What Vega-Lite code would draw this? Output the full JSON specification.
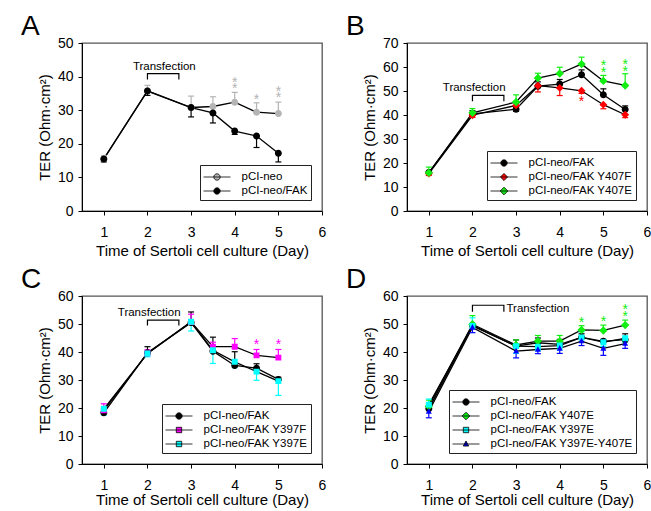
{
  "$schema": "https://vega.github.io/schema/vega-lite/v6.json",
  "background": "white",
  "padding": {"left": 20, "top": 12, "right": 0, "bottom": 0},
  "config": {
    "font": "Liberation Sans",
    "view": {"stroke": "#555555", "strokeWidth": 1.3},
    "axis": {
      "grid": false, "domainColor": "black", "tickColor": "black", "labelColor": "black", "titleColor": "black",
      "labelFontSize": 14, "titleFontSize": 15, "titleFontWeight": "normal", "tickSize": 4, "labelPadding": 5,
      "titlePadding": 5, "labelFlush": false, "labelOverlap": false, "domainWidth": 1, "tickWidth": 1
    },
    "axisX": {"labelPadding": 10, "titlePadding": 4},
    "legend": {
      "orient": "bottom-right", "offset": 11, "strokeColor": "#222222", "fillColor": "white", "padding": 3.5,
      "labelFontSize": 11.5, "labelOffset": 16, "symbolSize": 252, "symbolOffset": 5, "symbolStrokeColor": "black",
      "symbolStrokeWidth": 0.8, "rowPadding": -1.5, "labelColor": "black"
    }
  },
  "resolve": {
    "scale": {"color": "independent", "shape": "independent", "fill": "independent", "stroke": "independent"},
    "legend": {"color": "independent", "shape": "independent", "fill": "independent", "stroke": "independent"}
  },
  "datasets": {
    "a": [
      {"day": 1, "ter": 15.5, "g": "pCI-neo", "hi": 16.5},
      {"day": 2, "ter": 35.8, "g": "pCI-neo", "hi": 37.4},
      {"day": 3, "ter": 30.8, "g": "pCI-neo", "hi": 34.2},
      {"day": 3.5, "ter": 31.1, "g": "pCI-neo", "hi": 34.0},
      {"day": 4, "ter": 32.4, "g": "pCI-neo", "hi": 35.3},
      {"day": 4.5, "ter": 29.4, "g": "pCI-neo", "hi": 32.2},
      {"day": 5, "ter": 29.0, "g": "pCI-neo", "hi": 32.4},
      {"day": 1, "ter": 15.5, "g": "pCI-neo/FAK", "lo": 14.6},
      {"day": 2, "ter": 35.7, "g": "pCI-neo/FAK", "lo": 34.4},
      {"day": 3, "ter": 30.8, "g": "pCI-neo/FAK", "lo": 28.0},
      {"day": 3.5, "ter": 29.2, "g": "pCI-neo/FAK", "lo": 26.2},
      {"day": 4, "ter": 23.8, "g": "pCI-neo/FAK", "lo": 22.8},
      {"day": 4.5, "ter": 22.3, "g": "pCI-neo/FAK", "lo": 18.9},
      {"day": 5, "ter": 17.2, "g": "pCI-neo/FAK", "lo": 14.6}
    ],
    "a_st": [
      {"day": 4, "ter": 39.0, "g": "pCI-neo"}, {"day": 4, "ter": 37.2, "g": "pCI-neo"},
      {"day": 4.5, "ter": 34.0, "g": "pCI-neo"},
      {"day": 5, "ter": 36.4, "g": "pCI-neo"}, {"day": 5, "ter": 34.5, "g": "pCI-neo"}
    ],
    "a_br": [
      {"day": 2, "ter": 39.1, "i": 1}, {"day": 2, "ter": 40.9, "i": 2},
      {"day": 2.72, "ter": 40.9, "i": 3}, {"day": 2.72, "ter": 39.1, "i": 4}
    ],
    "a_tx": [{"day": 1.666, "ter": 43.0, "t": "Transfection"}],
    "b": [
      {"day": 1, "ter": 16.0, "g": "pCI-neo/FAK"},
      {"day": 2, "ter": 40.5, "g": "pCI-neo/FAK", "hi": 41.8},
      {"day": 3, "ter": 42.4, "g": "pCI-neo/FAK", "lo": 41.5},
      {"day": 3.5, "ter": 52.0, "g": "pCI-neo/FAK", "hi": 53.8},
      {"day": 4, "ter": 52.9, "g": "pCI-neo/FAK", "hi": 54.8},
      {"day": 4.5, "ter": 56.8, "g": "pCI-neo/FAK", "hi": 58.8},
      {"day": 5, "ter": 48.4, "g": "pCI-neo/FAK", "hi": 50.9},
      {"day": 5.5, "ter": 42.3, "g": "pCI-neo/FAK", "hi": 43.8},
      {"day": 1, "ter": 15.6, "g": "pCI-neo/FAK Y407F", "lo": 14.8},
      {"day": 2, "ter": 39.9, "g": "pCI-neo/FAK Y407F", "lo": 39.0},
      {"day": 3, "ter": 44.0, "g": "pCI-neo/FAK Y407F", "lo": 42.8},
      {"day": 3.5, "ter": 52.2, "g": "pCI-neo/FAK Y407F", "lo": 49.6},
      {"day": 4, "ter": 51.3, "g": "pCI-neo/FAK Y407F", "lo": 48.1},
      {"day": 4.5, "ter": 50.1, "g": "pCI-neo/FAK Y407F", "lo": 49.0},
      {"day": 5, "ter": 44.3, "g": "pCI-neo/FAK Y407F", "lo": 42.6},
      {"day": 5.5, "ter": 40.1, "g": "pCI-neo/FAK Y407F", "lo": 38.9},
      {"day": 1, "ter": 15.9, "g": "pCI-neo/FAK Y407E", "hi": 18.3},
      {"day": 2, "ter": 40.9, "g": "pCI-neo/FAK Y407E", "hi": 42.7},
      {"day": 3, "ter": 45.4, "g": "pCI-neo/FAK Y407E", "hi": 48.4},
      {"day": 3.5, "ter": 55.4, "g": "pCI-neo/FAK Y407E", "hi": 57.4},
      {"day": 4, "ter": 57.3, "g": "pCI-neo/FAK Y407E", "hi": 59.9},
      {"day": 4.5, "ter": 61.2, "g": "pCI-neo/FAK Y407E", "hi": 64.1},
      {"day": 5, "ter": 54.2, "g": "pCI-neo/FAK Y407E", "hi": 56.5},
      {"day": 5.5, "ter": 52.3, "g": "pCI-neo/FAK Y407E", "hi": 57.2}
    ],
    "b_st": [
      {"day": 5, "ter": 61.8, "g": "pCI-neo/FAK Y407E"}, {"day": 5, "ter": 58.8, "g": "pCI-neo/FAK Y407E"},
      {"day": 5.5, "ter": 62.1, "g": "pCI-neo/FAK Y407E"}, {"day": 5.5, "ter": 59.3, "g": "pCI-neo/FAK Y407E"},
      {"day": 4.5, "ter": 46.7, "g": "pCI-neo/FAK Y407F"}
    ],
    "b_br": [
      {"day": 2, "ter": 45.7, "i": 1}, {"day": 2, "ter": 48.2, "i": 2},
      {"day": 2.72, "ter": 48.2, "i": 3}, {"day": 2.72, "ter": 45.7, "i": 4}
    ],
    "b_tx": [{"day": 1.32, "ter": 51.25, "t": "Transfection"}],
    "c": [
      {"day": 1, "ter": 18.3, "g": "pCI-neo/FAK"},
      {"day": 2, "ter": 39.7, "g": "pCI-neo/FAK", "hi": 41.9},
      {"day": 3, "ter": 50.5, "g": "pCI-neo/FAK", "hi": 54.3},
      {"day": 3.5, "ter": 40.3, "g": "pCI-neo/FAK", "hi": 45.3},
      {"day": 4, "ter": 35.2, "g": "pCI-neo/FAK", "hi": 40.1},
      {"day": 4.5, "ter": 34.2, "g": "pCI-neo/FAK", "hi": 35.8},
      {"day": 5, "ter": 30.2, "g": "pCI-neo/FAK", "hi": 31.0},
      {"day": 1, "ter": 19.2, "g": "pCI-neo/FAK Y397F", "hi": 21.5},
      {"day": 2, "ter": 39.5, "g": "pCI-neo/FAK Y397F", "hi": 40.8},
      {"day": 3, "ter": 50.7, "g": "pCI-neo/FAK Y397F", "hi": 53.5},
      {"day": 3.5, "ter": 41.9, "g": "pCI-neo/FAK Y397F", "hi": 43.5},
      {"day": 4, "ter": 41.9, "g": "pCI-neo/FAK Y397F", "hi": 44.8},
      {"day": 4.5, "ter": 38.8, "g": "pCI-neo/FAK Y397F", "hi": 40.9},
      {"day": 5, "ter": 38.0, "g": "pCI-neo/FAK Y397F", "hi": 40.9},
      {"day": 1, "ter": 19.7, "g": "pCI-neo/FAK Y397E", "lo": 17.5},
      {"day": 2, "ter": 39.5, "g": "pCI-neo/FAK Y397E", "lo": 38.3},
      {"day": 3, "ter": 50.8, "g": "pCI-neo/FAK Y397E", "lo": 47.5},
      {"day": 3.5, "ter": 40.6, "g": "pCI-neo/FAK Y397E", "lo": 35.9},
      {"day": 4, "ter": 36.5, "g": "pCI-neo/FAK Y397E", "lo": 34.4},
      {"day": 4.5, "ter": 33.0, "g": "pCI-neo/FAK Y397E", "lo": 29.9},
      {"day": 5, "ter": 29.6, "g": "pCI-neo/FAK Y397E", "lo": 24.5}
    ],
    "c_st": [
      {"day": 4.5, "ter": 43.5, "g": "pCI-neo/FAK Y397F"}, {"day": 5, "ter": 43.5, "g": "pCI-neo/FAK Y397F"}
    ],
    "c_br": [
      {"day": 2, "ter": 49.5, "i": 1}, {"day": 2, "ter": 51.4, "i": 2},
      {"day": 2.72, "ter": 51.4, "i": 3}, {"day": 2.72, "ter": 49.5, "i": 4}
    ],
    "c_tx": [{"day": 1.32, "ter": 53.9, "t": "Transfection"}],
    "d": [
      {"day": 1, "ter": 19.7, "g": "pCI-neo/FAK"},
      {"day": 2, "ter": 49.5, "g": "pCI-neo/FAK"},
      {"day": 3, "ter": 42.1, "g": "pCI-neo/FAK", "hi": 44.3},
      {"day": 3.5, "ter": 43.3, "g": "pCI-neo/FAK", "hi": 45.0},
      {"day": 4, "ter": 42.7, "g": "pCI-neo/FAK", "hi": 44.5},
      {"day": 4.5, "ter": 45.2, "g": "pCI-neo/FAK", "hi": 46.5},
      {"day": 5, "ter": 43.8, "g": "pCI-neo/FAK", "hi": 44.5},
      {"day": 5.5, "ter": 44.4, "g": "pCI-neo/FAK", "hi": 46.5},
      {"day": 1, "ter": 20.6, "g": "pCI-neo/FAK Y407E", "hi": 22.8},
      {"day": 2, "ter": 49.9, "g": "pCI-neo/FAK Y407E", "hi": 53.0},
      {"day": 3, "ter": 42.5, "g": "pCI-neo/FAK Y407E", "hi": 44.3},
      {"day": 3.5, "ter": 43.9, "g": "pCI-neo/FAK Y407E", "hi": 45.9},
      {"day": 4, "ter": 43.9, "g": "pCI-neo/FAK Y407E", "hi": 45.9},
      {"day": 4.5, "ter": 47.9, "g": "pCI-neo/FAK Y407E", "hi": 49.4},
      {"day": 5, "ter": 47.7, "g": "pCI-neo/FAK Y407E", "hi": 49.6},
      {"day": 5.5, "ter": 49.6, "g": "pCI-neo/FAK Y407E", "hi": 51.4},
      {"day": 1, "ter": 21.2, "g": "pCI-neo/FAK Y397E", "hi": 23.2},
      {"day": 2, "ter": 49.3, "g": "pCI-neo/FAK Y397E", "hi": 52.2},
      {"day": 3, "ter": 42.1, "g": "pCI-neo/FAK Y397E", "lo": 39.5},
      {"day": 3.5, "ter": 41.9, "g": "pCI-neo/FAK Y397E", "lo": 40.5},
      {"day": 4, "ter": 42.3, "g": "pCI-neo/FAK Y397E", "lo": 40.8},
      {"day": 4.5, "ter": 45.2, "g": "pCI-neo/FAK Y397E", "hi": 47.2},
      {"day": 5, "ter": 43.5, "g": "pCI-neo/FAK Y397E", "lo": 42.0},
      {"day": 5.5, "ter": 44.9, "g": "pCI-neo/FAK Y397E", "lo": 43.5},
      {"day": 1, "ter": 18.8, "g": "pCI-neo/FAK Y397E-Y407E", "lo": 16.5},
      {"day": 2, "ter": 48.8, "g": "pCI-neo/FAK Y397E-Y407E", "lo": 46.9},
      {"day": 3, "ter": 40.3, "g": "pCI-neo/FAK Y397E-Y407E", "lo": 37.9},
      {"day": 3.5, "ter": 40.9, "g": "pCI-neo/FAK Y397E-Y407E", "lo": 39.4},
      {"day": 4, "ter": 41.3, "g": "pCI-neo/FAK Y397E-Y407E", "lo": 39.5},
      {"day": 4.5, "ter": 43.9, "g": "pCI-neo/FAK Y397E-Y407E", "lo": 42.3},
      {"day": 5, "ter": 41.3, "g": "pCI-neo/FAK Y397E-Y407E", "lo": 38.8},
      {"day": 5.5, "ter": 43.0, "g": "pCI-neo/FAK Y397E-Y407E", "lo": 41.3}
    ],
    "d_st": [
      {"day": 4.5, "ter": 51.4, "g": "pCI-neo/FAK Y407E"}, {"day": 5, "ter": 51.7, "g": "pCI-neo/FAK Y407E"},
      {"day": 5.5, "ter": 56.2, "g": "pCI-neo/FAK Y407E"}, {"day": 5.5, "ter": 53.7, "g": "pCI-neo/FAK Y407E"}
    ],
    "d_br": [
      {"day": 2, "ter": 54.4, "i": 1}, {"day": 2, "ter": 56.7, "i": 2},
      {"day": 2.72, "ter": 56.7, "i": 3}, {"day": 2.72, "ter": 54.4, "i": 4}
    ],
    "d_tx": [{"day": 2.78, "ter": 55.4, "t": "Transfection"}]
  },
  "columns": 2,
  "spacing": {"row": 85, "column": 85},
  "bounds": "flush",
  "concat": [
    {
      "width": 240, "height": 168,
      "title": {"text": "A", "anchor": "start", "frame": "group", "dx": -61, "dy": 27, "fontSize": 28, "fontWeight": "normal", "baseline": "alphabetic", "offset": 0},
      "encoding": {
        "x": {"field": "day", "type": "quantitative", "scale": {"domain": [0.5, 6], "nice": false, "zero": false}, "axis": {"values": [1, 2, 3, 4, 5, 6], "title": "Time of Sertoli cell culture (Day)"}},
        "y": {"field": "ter", "type": "quantitative", "scale": {"domain": [0, 50], "nice": false}, "axis": {"values": [0, 10, 20, 30, 40, 50], "title": "TER (Ohm·cm²)"}}
      },
      "layer": [
        {"data": {"name": "a_br"}, "mark": {"type": "line", "color": "black", "strokeWidth": 1.2}, "encoding": {"order": {"field": "i", "type": "quantitative"}}},
        {"data": {"name": "a_tx"}, "mark": {"type": "text", "align": "left", "baseline": "middle", "fontSize": 11.5, "color": "black"}, "encoding": {"text": {"field": "t"}}},
        {"data": {"name": "a"}, "mark": {"type": "line", "color": "black", "strokeWidth": 1.3}, "encoding": {"detail": {"field": "g"}}},
        {"data": {"name": "a"}, "transform": [{"fold": ["hi", "lo"], "as": ["k", "ev"]}, {"filter": "isValid(datum.ev)"}], "mark": {"type": "rule", "strokeWidth": 1.2},
          "encoding": {"y2": {"field": "ev"}, "stroke": {"field": "g", "type": "nominal", "scale": {"range": ["#b4b4b4", "#000000"]}, "legend": null}}},
        {"data": {"name": "a"}, "transform": [{"fold": ["hi", "lo"], "as": ["k", "ev"]}, {"filter": "isValid(datum.ev)"}], "mark": {"type": "tick", "orient": "horizontal", "size": 6, "thickness": 1.2, "opacity": 1},
          "encoding": {"y": {"field": "ev", "type": "quantitative"}, "fill": {"field": "g", "type": "nominal", "scale": {"range": ["#b4b4b4", "#000000"]}, "legend": null}}},
        {"data": {"name": "a"}, "mark": {"type": "point", "filled": true, "opacity": 1, "size": 306},
          "encoding": {
            "color": {"field": "g", "type": "nominal", "scale": {"domain": ["pCI-neo", "pCI-neo/FAK"], "range": ["#b4b4b4", "#000000"]}, "legend": {"title": null}},
            "shape": {"field": "g", "type": "nominal", "scale": {"domain": ["pCI-neo", "pCI-neo/FAK"], "range": ["M-1.7,0L1.7,0M0.4,0A0.4,0.4,0,1,1,-0.4,0A0.4,0.4,0,1,1,0.4,0Z", "M-1.7,0L1.7,0M0.4,0A0.4,0.4,0,1,1,-0.4,0A0.4,0.4,0,1,1,0.4,0Z"]}, "legend": {"title": null}}
          }},
        {"data": {"name": "a_st"}, "mark": {"type": "text", "text": "*", "fontSize": 14, "baseline": "middle", "dy": 3},
          "encoding": {"fill": {"field": "g", "type": "nominal", "scale": {"range": ["#b4b4b4", "#000000"]}, "legend": null}}}
      ]
    },
    {
      "width": 240, "height": 168,
      "title": {"text": "B", "anchor": "start", "frame": "group", "dx": -61, "dy": 27, "fontSize": 28, "fontWeight": "normal", "baseline": "alphabetic", "offset": 0},
      "encoding": {
        "x": {"field": "day", "type": "quantitative", "scale": {"domain": [0.5, 6], "nice": false, "zero": false}, "axis": {"values": [1, 2, 3, 4, 5, 6], "title": "Time of Sertoli cell culture (Day)"}},
        "y": {"field": "ter", "type": "quantitative", "scale": {"domain": [0, 70], "nice": false}, "axis": {"values": [0, 10, 20, 30, 40, 50, 60, 70], "title": "TER (Ohm·cm²)"}}
      },
      "layer": [
        {"data": {"name": "b_br"}, "mark": {"type": "line", "color": "black", "strokeWidth": 1.2}, "encoding": {"order": {"field": "i", "type": "quantitative"}}},
        {"data": {"name": "b_tx"}, "mark": {"type": "text", "align": "left", "baseline": "middle", "fontSize": 11.5, "color": "black"}, "encoding": {"text": {"field": "t"}}},
        {"data": {"name": "b"}, "mark": {"type": "line", "color": "black", "strokeWidth": 1.3}, "encoding": {"detail": {"field": "g"}}},
        {"data": {"name": "b"}, "transform": [{"fold": ["hi", "lo"], "as": ["k", "ev"]}, {"filter": "isValid(datum.ev)"}], "mark": {"type": "rule", "strokeWidth": 1.2},
          "encoding": {"y2": {"field": "ev"}, "stroke": {"field": "g", "type": "nominal", "scale": {"range": ["#000000", "#11ee11", "#ff0000"]}, "legend": null}}},
        {"data": {"name": "b"}, "transform": [{"fold": ["hi", "lo"], "as": ["k", "ev"]}, {"filter": "isValid(datum.ev)"}], "mark": {"type": "tick", "orient": "horizontal", "size": 6, "thickness": 1.2, "opacity": 1},
          "encoding": {"y": {"field": "ev", "type": "quantitative"}, "fill": {"field": "g", "type": "nominal", "scale": {"range": ["#000000", "#11ee11", "#ff0000"]}, "legend": null}}},
        {"data": {"name": "b"}, "mark": {"type": "point", "filled": true, "opacity": 1, "size": 306},
          "encoding": {
            "color": {"field": "g", "type": "nominal", "scale": {"domain": ["pCI-neo/FAK", "pCI-neo/FAK Y407F", "pCI-neo/FAK Y407E"], "range": ["#000000", "#ff0000", "#11ee11"]}, "legend": {"title": null}},
            "shape": {"field": "g", "type": "nominal", "scale": {"domain": ["pCI-neo/FAK", "pCI-neo/FAK Y407F", "pCI-neo/FAK Y407E"], "range": ["M-1.7,0L1.7,0M0.4,0A0.4,0.4,0,1,1,-0.4,0A0.4,0.4,0,1,1,0.4,0Z", "M-1.7,0L1.7,0M0,-0.45L0.45,0L0,0.45L-0.45,0Z", "M-1.7,0L1.7,0M0,-0.48L0.48,0L0,0.48L-0.48,0Z"]}, "legend": {"title": null}}
          }},
        {"data": {"name": "b_st"}, "mark": {"type": "text", "text": "*", "fontSize": 14, "baseline": "middle", "dy": 3},
          "encoding": {"fill": {"field": "g", "type": "nominal", "scale": {"range": ["#11ee11", "#ff0000"]}, "legend": null}}}
      ]
    },
    {
      "width": 240, "height": 168,
      "title": {"text": "C", "anchor": "start", "frame": "group", "dx": -61, "dy": 27, "fontSize": 28, "fontWeight": "normal", "baseline": "alphabetic", "offset": 0},
      "encoding": {
        "x": {"field": "day", "type": "quantitative", "scale": {"domain": [0.5, 6], "nice": false, "zero": false}, "axis": {"values": [1, 2, 3, 4, 5, 6], "title": "Time of Sertoli cell culture (Day)", "titlePadding": 0}},
        "y": {"field": "ter", "type": "quantitative", "scale": {"domain": [0, 60], "nice": false}, "axis": {"values": [0, 10, 20, 30, 40, 50, 60], "title": "TER (Ohm·cm²)"}}
      },
      "layer": [
        {"data": {"name": "c_br"}, "mark": {"type": "line", "color": "black", "strokeWidth": 1.2}, "encoding": {"order": {"field": "i", "type": "quantitative"}}},
        {"data": {"name": "c_tx"}, "mark": {"type": "text", "align": "left", "baseline": "middle", "fontSize": 11.5, "color": "black"}, "encoding": {"text": {"field": "t"}}},
        {"data": {"name": "c"}, "mark": {"type": "line", "color": "black", "strokeWidth": 1.3}, "encoding": {"detail": {"field": "g"}}},
        {"data": {"name": "c"}, "transform": [{"fold": ["hi", "lo"], "as": ["k", "ev"]}, {"filter": "isValid(datum.ev)"}], "mark": {"type": "rule", "strokeWidth": 1.2},
          "encoding": {"y2": {"field": "ev"}, "stroke": {"field": "g", "type": "nominal", "scale": {"range": ["#000000", "#00ffff", "#ff00ff"]}, "legend": null}}},
        {"data": {"name": "c"}, "transform": [{"fold": ["hi", "lo"], "as": ["k", "ev"]}, {"filter": "isValid(datum.ev)"}], "mark": {"type": "tick", "orient": "horizontal", "size": 6, "thickness": 1.2, "opacity": 1},
          "encoding": {"y": {"field": "ev", "type": "quantitative"}, "fill": {"field": "g", "type": "nominal", "scale": {"range": ["#000000", "#00ffff", "#ff00ff"]}, "legend": null}}},
        {"data": {"name": "c"}, "mark": {"type": "point", "filled": true, "opacity": 1, "size": 306},
          "encoding": {
            "color": {"field": "g", "type": "nominal", "scale": {"domain": ["pCI-neo/FAK", "pCI-neo/FAK Y397F", "pCI-neo/FAK Y397E"], "range": ["#000000", "#ff00ff", "#00ffff"]}, "legend": {"title": null}},
            "shape": {"field": "g", "type": "nominal", "scale": {"domain": ["pCI-neo/FAK", "pCI-neo/FAK Y397F", "pCI-neo/FAK Y397E"], "range": ["M-1.7,0L1.7,0M0.4,0A0.4,0.4,0,1,1,-0.4,0A0.4,0.4,0,1,1,0.4,0Z", "M-1.7,0L1.7,0M-0.34,-0.34L0.34,-0.34L0.34,0.34L-0.34,0.34Z", "M-1.7,0L1.7,0M-0.34,-0.34L0.34,-0.34L0.34,0.34L-0.34,0.34Z"]}, "legend": {"title": null}}
          }},
        {"data": {"name": "c_st"}, "mark": {"type": "text", "text": "*", "fontSize": 14, "baseline": "middle", "dy": 3},
          "encoding": {"fill": {"field": "g", "type": "nominal", "scale": {"range": ["#ff00ff"]}, "legend": null}}}
      ]
    },
    {
      "width": 240, "height": 168,
      "title": {"text": "D", "anchor": "start", "frame": "group", "dx": -61, "dy": 27, "fontSize": 28, "fontWeight": "normal", "baseline": "alphabetic", "offset": 0},
      "encoding": {
        "x": {"field": "day", "type": "quantitative", "scale": {"domain": [0.5, 6], "nice": false, "zero": false}, "axis": {"values": [1, 2, 3, 4, 5, 6], "title": "Time of Sertoli cell culture (Day)", "titlePadding": 0}},
        "y": {"field": "ter", "type": "quantitative", "scale": {"domain": [0, 60], "nice": false}, "axis": {"values": [0, 10, 20, 30, 40, 50, 60], "title": "TER (Ohm·cm²)"}}
      },
      "layer": [
        {"data": {"name": "d_br"}, "mark": {"type": "line", "color": "black", "strokeWidth": 1.2}, "encoding": {"order": {"field": "i", "type": "quantitative"}}},
        {"data": {"name": "d_tx"}, "mark": {"type": "text", "align": "left", "baseline": "middle", "fontSize": 11.5, "color": "black"}, "encoding": {"text": {"field": "t"}}},
        {"data": {"name": "d"}, "mark": {"type": "line", "color": "black", "strokeWidth": 1.3}, "encoding": {"detail": {"field": "g"}}},
        {"data": {"name": "d"}, "transform": [{"fold": ["hi", "lo"], "as": ["k", "ev"]}, {"filter": "isValid(datum.ev)"}], "mark": {"type": "rule", "strokeWidth": 1.2},
          "encoding": {"y2": {"field": "ev"}, "stroke": {"field": "g", "type": "nominal", "scale": {"range": ["#000000", "#00ffff", "#0000ff", "#11ee11"]}, "legend": null}}},
        {"data": {"name": "d"}, "transform": [{"fold": ["hi", "lo"], "as": ["k", "ev"]}, {"filter": "isValid(datum.ev)"}], "mark": {"type": "tick", "orient": "horizontal", "size": 6, "thickness": 1.2, "opacity": 1},
          "encoding": {"y": {"field": "ev", "type": "quantitative"}, "fill": {"field": "g", "type": "nominal", "scale": {"range": ["#000000", "#00ffff", "#0000ff", "#11ee11"]}, "legend": null}}},
        {"data": {"name": "d"}, "mark": {"type": "point", "filled": true, "opacity": 1, "size": 306},
          "encoding": {
            "color": {"field": "g", "type": "nominal", "scale": {"domain": ["pCI-neo/FAK", "pCI-neo/FAK Y407E", "pCI-neo/FAK Y397E", "pCI-neo/FAK Y397E-Y407E"], "range": ["#000000", "#11ee11", "#00ffff", "#0000ff"]}, "legend": {"title": null}},
            "shape": {"field": "g", "type": "nominal", "scale": {"domain": ["pCI-neo/FAK", "pCI-neo/FAK Y407E", "pCI-neo/FAK Y397E", "pCI-neo/FAK Y397E-Y407E"], "range": ["M-1.7,0L1.7,0M0.4,0A0.4,0.4,0,1,1,-0.4,0A0.4,0.4,0,1,1,0.4,0Z", "M-1.7,0L1.7,0M0,-0.48L0.48,0L0,0.48L-0.48,0Z", "M-1.7,0L1.7,0M-0.34,-0.34L0.34,-0.34L0.34,0.34L-0.34,0.34Z", "M-1.7,0L1.7,0M0,-0.38L0.34,0.26L-0.34,0.26Z"]}, "legend": {"title": null}}
          }},
        {"data": {"name": "d_st"}, "mark": {"type": "text", "text": "*", "fontSize": 14, "baseline": "middle", "dy": 3},
          "encoding": {"fill": {"field": "g", "type": "nominal", "scale": {"range": ["#11ee11"]}, "legend": null}}}
      ]
    }
  ]
}
